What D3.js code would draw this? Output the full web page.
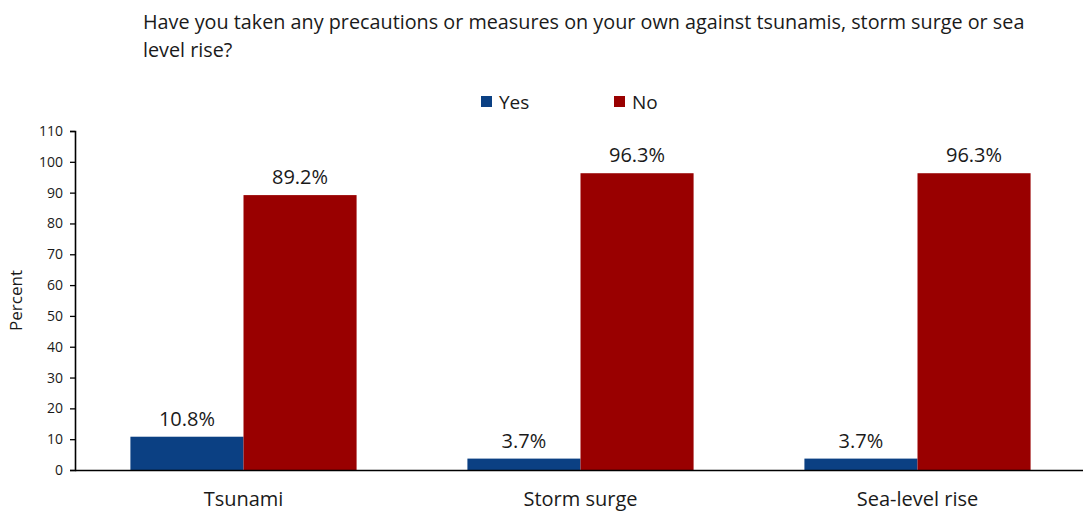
<!DOCTYPE html>
<html>
<head>
<meta charset="utf-8">
<script src="https://cdn.jsdelivr.net/npm/d3@7"></script>
<style>
  html, body { margin: 0; padding: 0; background: #fff; }
  svg { display: block; font-family: "Open Sans", sans-serif; }
</style>
</head>
<body>
<svg id="chart" width="1083" height="511"></svg>
<script>
const categories = ["Tsunami", "Storm surge", "Sea-level rise"];
const seriesNames = ["Yes", "No"];
const yesValues = [10.8, 3.7, 3.7];
const noValues = [89.2, 96.3, 96.3];
const yTicks = [0, 10, 20, 30, 40, 50, 60, 70, 80, 90, 100, 110];
const titleLines = [
  "Have you taken any precautions or measures on your own against tsunamis, storm surge or sea",
  "level rise?"
];
const colors = { Yes: "#0b4083", No: "#990000" };
const FONT = "'Open Sans', sans-serif";

const svg = d3.select("#chart");
const margin = { left: 75, right: -3, top: 131, bottom: 41 };
const W = 1083, H = 511;

const x0 = d3.scaleBand()
  .domain(categories)
  .range([margin.left, W - margin.right])
  .paddingInner(0)
  .paddingOuter(0);
const x1 = d3.scaleBand()
  .domain(seriesNames)
  .range([0, x0.bandwidth()])
  .paddingInner(0)
  .paddingOuter(0.49);
const y = d3.scaleLinear().domain([0, 110]).range([H - margin.bottom, margin.top]);

const rows = categories.map((c, i) => ({ cat: c, Yes: yesValues[i], No: noValues[i] }));

// title
svg.append("g").selectAll("text").data(titleLines).join("text")
  .attr("x", 143).attr("y", (d, i) => 29 + i * 28)
  .attr("font-size", 19.8).attr("fill", "#1a1a1a")
  .text(d => d);

// legend
const legendPos = [481, 614];
const lg = svg.append("g").selectAll("g").data(seriesNames).join("g")
  .attr("transform", (d, i) => `translate(${legendPos[i]},96)`);
lg.append("rect").attr("width", 11).attr("height", 11).attr("fill", d => colors[d]);
lg.append("text").attr("x", 18).attr("y", 12.5).attr("font-size", 19).attr("fill", "#1a1a1a").text(d => d);

// bars
const groups = svg.append("g").selectAll("g").data(rows).join("g")
  .attr("transform", d => `translate(${x0(d.cat)},0)`);
groups.selectAll("rect").data(d => seriesNames.map(k => ({ key: k, value: d[k] }))).join("rect")
  .attr("x", d => x1(d.key))
  .attr("y", d => y(d.value))
  .attr("width", x1.bandwidth())
  .attr("height", d => y(0) - y(d.value))
  .attr("fill", d => colors[d.key]);
groups.selectAll("text").data(d => seriesNames.map(k => ({ key: k, value: d[k] }))).join("text")
  .attr("x", d => x1(d.key) + x1.bandwidth() / 2)
  .attr("y", d => y(d.value) - 11)
  .attr("text-anchor", "middle")
  .attr("font-size", 20).attr("fill", "#1a1a1a")
  .text(d => d.value.toFixed(1) + "%");

// y axis
const yAxis = svg.append("g").attr("transform", `translate(${margin.left},0)`)
  .call(d3.axisLeft(y).tickValues(yTicks).tickSize(5).tickPadding(7));
yAxis.select(".domain").attr("stroke", "#000").attr("stroke-width", 1.6);
yAxis.selectAll(".tick line").attr("stroke", "#000").attr("stroke-width", 1.3);
yAxis.selectAll(".tick text").attr("font-size", 14).attr("fill", "#1a1a1a").attr("font-family", FONT);

// x axis
const xAxis = svg.append("g").attr("transform", `translate(0,${y(0)})`)
  .call(d3.axisBottom(x0).tickSize(0).tickPadding(22));
xAxis.select(".domain").attr("stroke", "#000").attr("stroke-width", 1.6)
  .attr("d", `M${margin.left},0.5H${W}`);
xAxis.selectAll(".tick text").attr("font-size", 20).attr("fill", "#1a1a1a").attr("font-family", FONT);

// y axis title
svg.append("text")
  .attr("transform", `translate(22,${(y(0) + y(110)) / 2}) rotate(-90)`)
  .attr("text-anchor", "middle")
  .attr("font-size", 17).attr("fill", "#1a1a1a")
  .text("Percent");
</script>
</body>
</html>
